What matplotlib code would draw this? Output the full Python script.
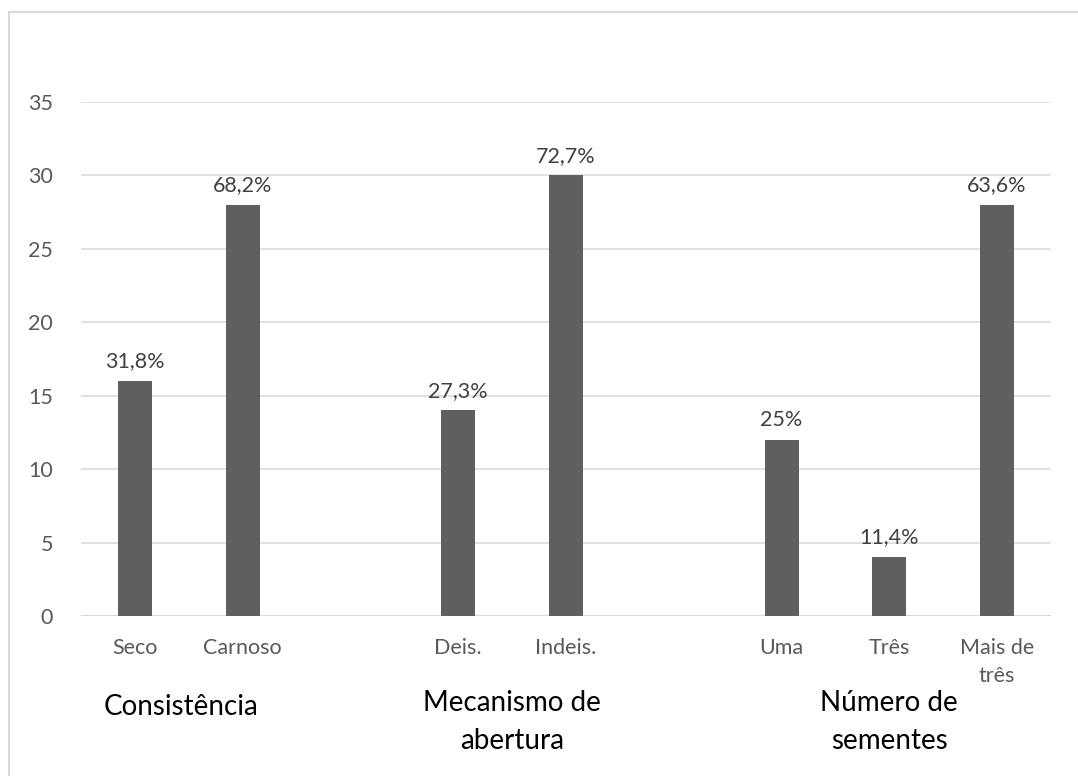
import matplotlib.pyplot as plt
from matplotlib.patches import Rectangle
from matplotlib import transforms

plt.rcParams['font.family'] = ['Lato', 'DejaVu Sans']

# slots: 9 positions, two empty gaps between the groups
categorias = ["Seco", "Carnoso", "", "Deis.", "Indeis.", "", "Uma", "Três", "Mais de\ntrês"]
valores = [16, 28, None, 14, 30, None, 12, 4, 28]
rotulos = ["31,8%", "68,2%", "", "27,3%", "72,7%", "", "25%", "11,4%", "63,6%"]
grupos = ["Consistência", "Mecanismo de\nabertura", "Número de\nsementes"]
grupos_x = [0.43, 3.5, 7.0]
grupos_y = [707, 722, 722]

fig = plt.figure(figsize=(10.78, 7.76), dpi=100)
ax = fig.add_axes([81/1078, 1 - 616/776, 970/1078, 514/776])

pos = [i for i, v in enumerate(valores) if v is not None]
alturas = [valores[i] for i in pos]
ax.bar(pos, alturas, width=0.315, color="#5f5f5f", zorder=3)

for i in pos:
    ax.annotate(rotulos[i], (i, valores[i]), xytext=(0, 7), textcoords="offset points",
                ha="center", va="bottom", fontsize=15.5, color="#404040")

ax.set_xlim(-0.5, 8.5)
ax.set_ylim(0, 35)
ax.set_yticks(range(0, 36, 5))
ax.set_xticks(pos)
ax.set_xticklabels([categorias[i] for i in pos], fontsize=15.5, color="#595959", linespacing=1.5)
ax.tick_params(axis="x", length=0, pad=16)
ax.tick_params(axis="y", length=0, pad=20, labelsize=15.5, labelcolor="#595959")
ax.grid(axis="y", color="#d9d9d9", linewidth=1.1, zorder=0)
for s in ax.spines.values():
    s.set_visible(False)
ax.axhline(0, color="#d9d9d9", linewidth=1.4, zorder=2)

trans = transforms.blended_transform_factory(ax.transData, fig.transFigure)
for g, gx, gy in zip(grupos, grupos_x, grupos_y):
    ax.text(gx, 1 - gy/776, g, transform=trans, ha="center", va="center",
            fontsize=20, color="black", linespacing=1.6)

# borda da área do gráfico
fig.patches.append(Rectangle((9/1078, -0.1), 1.2, 1 - 12/776 + 0.1, transform=fig.transFigure,
                             fill=False, edgecolor="#d9d9d9", linewidth=1.5))

fig.savefig("out.png", dpi=100)
